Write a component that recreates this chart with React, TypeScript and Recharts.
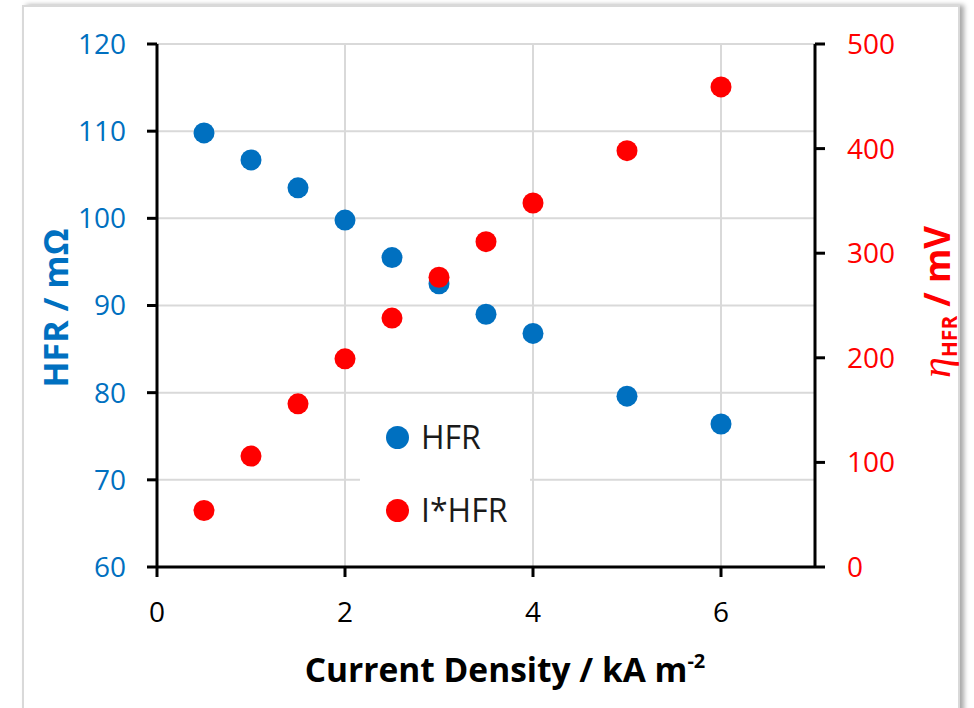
import React from 'react';
import { ScatterChart, Scatter, XAxis, YAxis, CartesianGrid, Legend } from 'recharts';

const currentDensity = [0.5, 1, 1.5, 2, 2.5, 3, 3.5, 4, 5, 6];
const hfrValues = [109.8, 106.7, 103.5, 99.8, 95.5, 92.5, 89.0, 86.8, 79.6, 76.4];
const iHfrValues = [54, 106, 156, 199, 238, 277, 311, 348, 398, 459];
const xTicks = [0, 2, 4, 6];
const leftTicks = [60, 70, 80, 90, 100, 110, 120];
const rightTicks = [0, 100, 200, 300, 400, 500];
const seriesNames = ['HFR', 'I*HFR'];

const BLUE = '#0070C0';
const RED = '#FF0000';
const FONT = '"Open Sans", sans-serif';

const hfrData = currentDensity.map((x, i) => ({ x, y: hfrValues[i] }));
const iHfrData = currentDensity.map((x, i) => ({ x, y: iHfrValues[i] }));

const dot = (color: string) => (props: any) => (
  <circle cx={props.cx} cy={props.cy} r={10.5} fill={color} />
);

const renderLegend = () => (
  <div
    style={{
      background: '#fff',
      width: 170,
      height: 155,
      fontFamily: FONT,
      fontSize: 32,
      color: '#1a1a1a',
      position: 'relative',
    }}
  >
    {[seriesNames[0], seriesNames[1]].map((n, i) => (
      <div
        key={n}
        style={{ position: 'absolute', left: 26, top: 17 + i * 73, height: 40, display: 'flex', alignItems: 'center' }}
      >
        <span
          style={{
            display: 'inline-block',
            width: 23,
            height: 23,
            borderRadius: 12,
            background: i === 0 ? BLUE : RED,
            marginRight: 12,
          }}
        />
        <span style={{ lineHeight: '40px' }}>{n}</span>
      </div>
    ))}
  </div>
);

const XTitle = () => (
  <text x={505} y={682} textAnchor="middle" fontFamily={FONT} fontWeight="bold" fontSize={33.5} fill="#000">
    Current Density / kA m
    <tspan dy={-14} fontSize={20}>-2</tspan>
  </text>
);

const LeftTitle = () => (
  <text
    x={68}
    y={308}
    transform="rotate(-90 68 308)"
    textAnchor="middle"
    fontFamily={FONT}
    fontWeight="bold"
    fontSize={34}
    fill={BLUE}
  >
    HFR / mΩ
  </text>
);

const RightTitle = () => (
  <text
    x={950}
    y={302}
    transform="rotate(-90 950 302)"
    textAnchor="middle"
    fontFamily={FONT}
    fontWeight="bold"
    fontSize={35}
    fill={RED}
  >
    <tspan fontFamily='"Liberation Serif", serif' fontStyle="italic" fontWeight="normal" fontSize={42}>η</tspan>
    <tspan fontSize={21} dy={7}>HFR</tspan>
    <tspan dy={-7}> / mV</tspan>
  </text>
);

export default function App() {
  return (
    <div style={{ position: 'absolute', left: 0, top: 0, width: 974, height: 708, background: '#fff', overflow: 'hidden' }}>
      <div
        style={{
          position: 'absolute',
          left: 22,
          top: 5,
          width: 934,
          height: 740,
          border: '2px solid #d9d9d9',
          boxShadow: '4px 0 5px rgba(0,0,0,0.35)',
          background: '#fff',
        }}
      />
      <div style={{ position: 'absolute', left: 0, top: 0 }}>
        <ScatterChart width={974} height={708} margin={{ top: 44, right: 59, bottom: 61, left: 57 }}>
          <CartesianGrid yAxisId="left" stroke="#d9d9d9" strokeWidth={2} />
          <XAxis
            type="number"
            dataKey="x"
            domain={[0, 7]}
            ticks={xTicks}
            height={80}
            tickSize={10}
            tickMargin={25}
            axisLine={{ stroke: '#000', strokeWidth: 3 }}
            tickLine={{ stroke: '#000', strokeWidth: 3 }}
            tick={{ fill: '#000', fontSize: 28, fontFamily: FONT }}
            label={() => <XTitle />}
          />
          <YAxis
            yAxisId="left"
            type="number"
            dataKey="y"
            domain={[60, 120]}
            ticks={leftTicks}
            width={100}
            tickSize={10}
            tickMargin={21}
            axisLine={{ stroke: '#000', strokeWidth: 3 }}
            tickLine={{ stroke: '#000', strokeWidth: 3 }}
            tick={{ fill: BLUE, fontSize: 28, fontFamily: FONT }}
            label={() => <LeftTitle />}
          />
          <YAxis
            yAxisId="right"
            orientation="right"
            type="number"
            dataKey="y"
            domain={[0, 500]}
            ticks={rightTicks}
            width={100}
            tickSize={10}
            tickMargin={22}
            axisLine={{ stroke: '#000', strokeWidth: 3 }}
            tickLine={{ stroke: '#000', strokeWidth: 3 }}
            tick={{ fill: RED, fontSize: 28, fontFamily: FONT }}
            label={() => <RightTitle />}
          />
          <Legend
            layout="vertical"
            align="center"
            verticalAlign="middle"
            content={renderLegend}
            wrapperStyle={{ position: 'absolute', left: 360, top: 400, width: 170, height: 155 }}
          />
          <Scatter name={seriesNames[0]} yAxisId="left" data={hfrData} fill={BLUE} shape={dot(BLUE)} isAnimationActive={false} />
          <Scatter name={seriesNames[1]} yAxisId="right" data={iHfrData} fill={RED} shape={dot(RED)} isAnimationActive={false} />
        </ScatterChart>
      </div>
    </div>
  );
}
